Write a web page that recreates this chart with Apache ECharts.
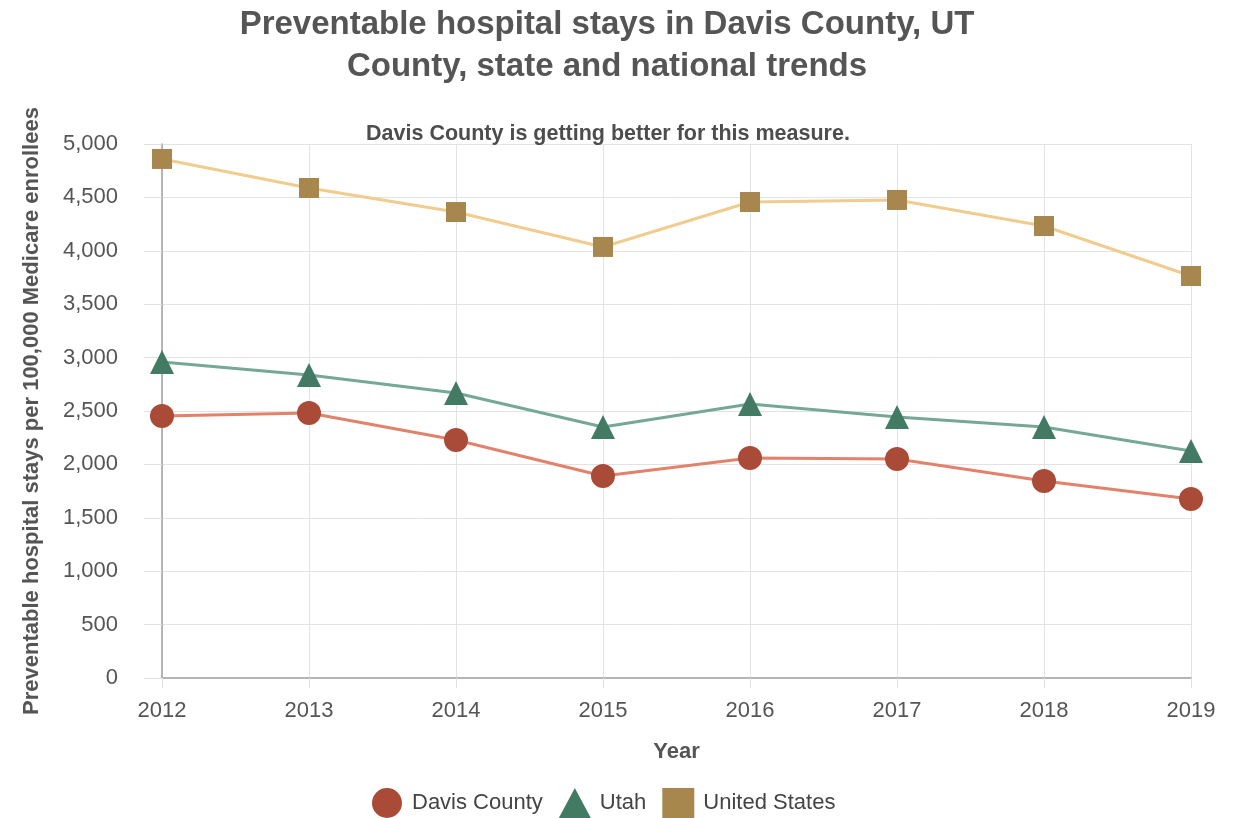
<!DOCTYPE html>
<html><head><meta charset="utf-8">
<script src="https://cdn.jsdelivr.net/npm/echarts@6/dist/echarts.min.js"></script>
<style>html,body{margin:0;padding:0;background:#fff}#c{width:1243px;height:818px}</style>
</head><body><div id="c"></div>
<script>
const years = ['2012','2013','2014','2015','2016','2017','2018','2019'];
const davis = [2453, 2481, 2228, 1891, 2060, 2051, 1845, 1676];
const utah = [2959, 2837, 2669, 2350, 2566, 2444, 2350, 2125];
const us = [4860, 4588, 4363, 4036, 4457, 4476, 4232, 3764];

const chart = echarts.init(document.getElementById('c'));
const font = 'Arial, "Liberation Sans", sans-serif';
chart.setOption({
  animation: false,
  textStyle: {fontFamily: font},
  title: [{
    text: 'Preventable hospital stays in Davis County, UT\nCounty, state and national trends',
    left: 602, top: -1, textAlign: 'center',
    textStyle: {fontSize: 33, fontWeight: 'bold', color: '#555', lineHeight: 42, fontFamily: font}
  }, {
    text: 'Davis County is getting better for this measure.',
    left: 603, top: 118, textAlign: 'center',
    textStyle: {fontSize: 21.5, fontWeight: 'bold', color: '#4d4d4d', fontFamily: font}
  }],
  legend: {
    bottom: -5, left: 367, itemWidth: 32, itemHeight: 30, itemGap: 16,
    textStyle: {fontSize: 22, color: '#444', fontFamily: font, padding: [0, 0, 0, 4]},
    data: [
      {name: 'Davis County', icon: 'circle'},
      {name: 'Utah', icon: 'triangle'},
      {name: 'United States', icon: 'rect'}
    ]
  },
  grid: {left: 162, right: 52, top: 144, bottom: 140},
  xAxis: {
    type: 'category', data: years, boundaryGap: false,
    name: 'Year', nameLocation: 'middle', nameGap: 63,
    nameTextStyle: {fontSize: 22, fontWeight: 'bold', color: '#555'},
    axisLine: {lineStyle: {color: '#b5b5b5', width: 2}},
    axisTick: {show: true, length: 10, lineStyle: {color: '#e0e0e0'}},
    axisLabel: {fontSize: 22, color: '#555', margin: 22},
    splitLine: {show: true, lineStyle: {color: '#e3e3e3'}}
  },
  yAxis: {
    type: 'value', min: 0, max: 5000, interval: 500,
    name: 'Preventable hospital stays per 100,000 Medicare enrollees',
    nameLocation: 'middle', nameGap: 119, nameRotate: 90,
    nameTextStyle: {fontSize: 22, fontWeight: 'bold', color: '#555'},
    axisLine: {show: true, lineStyle: {color: '#a0a0a0', width: 1.5}},
    axisTick: {show: true, length: 18, lineStyle: {color: '#e0e0e0'}},
    axisLabel: {fontSize: 22, color: '#555', margin: 44,
      formatter: v => v.toLocaleString('en-US')},
    splitLine: {lineStyle: {color: '#e3e3e3'}}
  },
  series: [
    {name: 'Davis County', type: 'line', data: davis, symbol: 'circle', symbolSize: 24,
     lineStyle: {color: '#e3826a', width: 3}, itemStyle: {color: '#a94b36'}},
    {name: 'Utah', type: 'line', data: utah, symbol: 'triangle', symbolSize: 24,
     lineStyle: {color: '#75a895', width: 3}, itemStyle: {color: '#427a63'}},
    {name: 'United States', type: 'line', data: us, symbol: 'rect', symbolSize: 20,
     lineStyle: {color: '#f0cc8e', width: 3}, itemStyle: {color: '#a8874f'}}
  ]
});
</script></body></html>
